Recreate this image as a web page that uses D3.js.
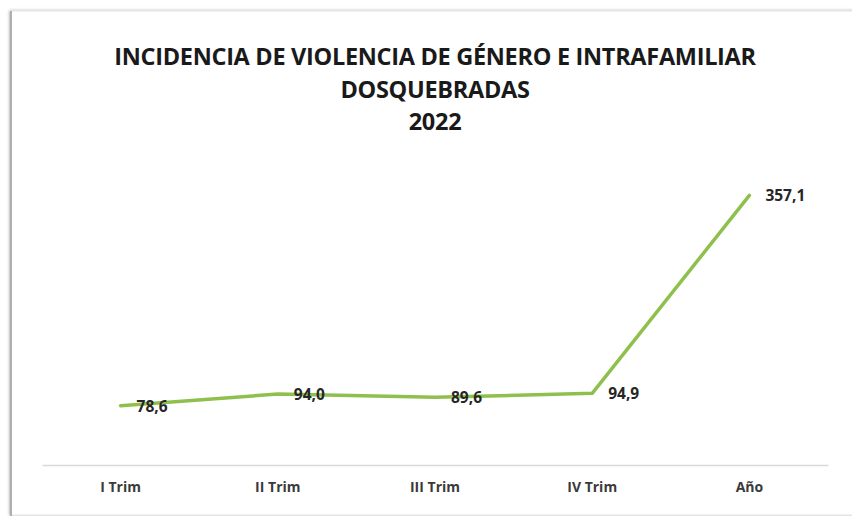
<!DOCTYPE html>
<html>
<head>
<meta charset="utf-8">
<script src="https://cdn.jsdelivr.net/npm/d3@7"></script>
<style>
  html, body { margin: 0; padding: 0; background: #fff; }
  svg { display: block; }
</style>
</head>
<body>
<div id="chart"></div>
<script>
const categories = ["I Trim", "II Trim", "III Trim", "IV Trim", "Año"];
const values = [78.6, 94.0, 89.6, 94.9, 357.1];
const titleLines = ["INCIDENCIA DE VIOLENCIA DE GÉNERO E INTRAFAMILIAR", "DOSQUEBRADAS", "2022"];

const width = 852, height = 516;
const margin = { top: 163, right: 24, bottom: 51, left: 42 };
const fmt = v => v.toFixed(1).replace(".", ",");

const svg = d3.select("#chart").append("svg")
    .attr("width", width).attr("height", height);

// marco del gráfico con sombra
const defs = svg.append("defs");
const f = defs.append("filter").attr("id", "sh").attr("x", "-5%").attr("y", "-5%").attr("width", "110%").attr("height", "110%");
f.append("feDropShadow").attr("dx", -1).attr("dy", 0).attr("stdDeviation", 1.5).attr("flood-color", "#000").attr("flood-opacity", 0.35);

svg.append("rect").attr("x", 11).attr("y", 11).attr("width", 860).attr("height", 504)
    .attr("fill", "#fff").attr("stroke", "#e3e3e3").attr("stroke-width", 1).attr("filter", "url(#sh)");
svg.append("line").attr("x1", 11).attr("x2", 11).attr("y1", 11).attr("y2", 516)
    .attr("stroke", "#9a9a9a").attr("stroke-width", 1.5);

svg.selectAll("text.title").data(titleLines).join("text")
    .attr("class", "title")
    .attr("x", 435).attr("y", (d, i) => 65 + i * 32.5)
    .attr("text-anchor", "middle")
    .style("font-family", "'Open Sans', sans-serif")
    .style("font-weight", "bold")
    .style("font-size", "23.5px")
    .style("letter-spacing", "-0.3px")
    .attr("fill", "#1a1a1a")
    .text(d => d);

const x = d3.scaleBand().domain(categories).range([margin.left, width - margin.right]);
const y = d3.scaleLinear().domain([0, 400]).range([height - margin.bottom, margin.top]);

// eje horizontal
const xAxis = svg.append("g").attr("transform", `translate(0,${y(0)})`)
    .call(d3.axisBottom(x).tickSize(0).tickPadding(17));
xAxis.select(".domain").attr("stroke", "#d9d9d9").attr("stroke-width", 1.5);
xAxis.selectAll("text")
    .style("font-family", "'Open Sans', sans-serif")
    .style("font-weight", "bold")
    .style("font-size", "14px")
    .attr("fill", "#3a3a3a");

const cx = d => x(d) + x.bandwidth() / 2;
const data = categories.map((c, i) => ({ c, v: values[i] }));

svg.append("path").datum(data)
    .attr("fill", "none")
    .attr("stroke", "#8fc04e")
    .attr("stroke-width", 3.5)
    .attr("stroke-linejoin", "round")
    .attr("stroke-linecap", "round")
    .attr("d", d3.line().x(d => cx(d.c)).y(d => y(d.v)));

svg.selectAll("text.lbl").data(data).join("text")
    .attr("class", "lbl")
    .attr("x", d => cx(d.c) + 16)
    .attr("y", d => y(d.v) + 6)
    .style("font-family", "'Open Sans', sans-serif")
    .style("font-weight", "bold")
    .style("font-size", "15.5px")
    .attr("fill", "#262626")
    .text(d => fmt(d.v));
</script>
</body>
</html>
